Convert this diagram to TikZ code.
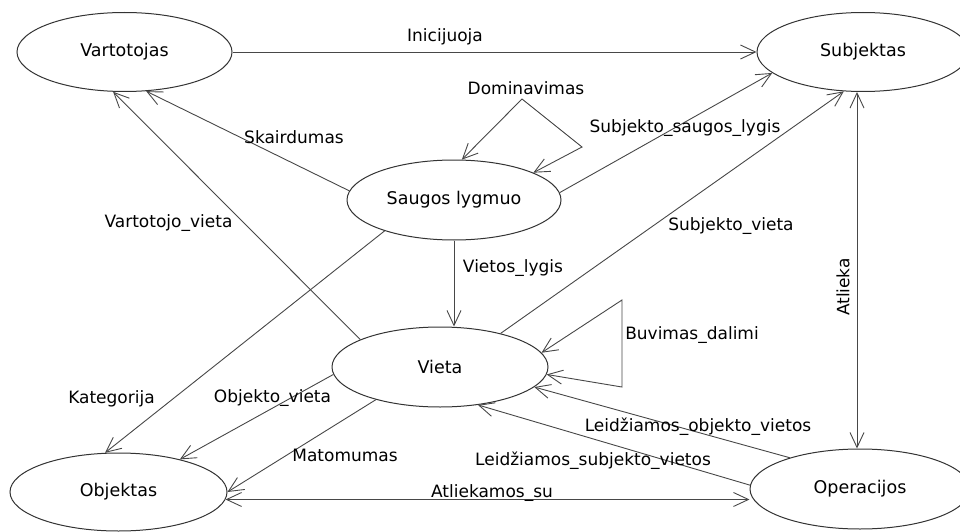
\documentclass[tikz,border=0pt]{standalone}
\usepackage{fontspec}
\setmainfont{DejaVu Sans}
\usetikzlibrary{shapes.geometric,arrows.meta}
\begin{document}
\begin{tikzpicture}[x=1pt,y=-1pt,
  line/.style={draw=black!72, line width=0.9pt},
  ent/.style={ellipse, draw=black!80, line width=1pt, minimum width=215pt,
    minimum height=79pt, inner sep=0pt, font=\fontsize{17.5}{20}\selectfont},
  lbl/.style={inner sep=0pt, font=\fontsize{17}{20}\selectfont},
  >={Straight Barb[length=15pt,width=14pt]}
]
\useasboundingbox (0,0) rectangle (960,532);

% entities
\node[ent] (vart) at (124.5,52) {Vartotojas};
\node[ent, minimum width=212pt] (subj) at (863,52) {Subjektas};
\node[ent, minimum width=214pt, minimum height=80pt] (saug) at (454,200) {Saugos lygmuo};
\node[ent, minimum width=216pt, minimum height=80pt] (viet) at (440,367) {Vieta};
\node[ent, minimum width=217pt, minimum height=78pt] (obj) at (118.5,492) {Objektas};
\node[ent, minimum width=220pt, minimum height=80pt] (oper) at (860,489) {Operacijos};

% corners of the two self-loops
\coordinate (domtop) at (522,99);
\coordinate (domright) at (582,147);
\coordinate (buvtop) at (622,300);
\coordinate (buvbot) at (622,387);

% relations
\draw[line,->] (vart.east) -- (subj.west);
\draw[line,->] (saug.175) -- (vart.-61);
\draw[line,->] (viet.161) -- (vart.254);
\draw[line,->] (saug.4) -- (subj.193);
\draw[line,<->] (saug.79) -- (domtop) -- (domright) -- (saug.19);
\draw[line,->] (saug.south) -- (saug.south |- viet.north);
\draw[line,->] (saug.204) -- (obj.109);
\draw[line,->] (viet.29) -- (subj.244);
\draw[line,<->] (viet.8) -- (buvtop) -- (buvbot) -- (viet.-4);
\draw[line,->] (oper.156) -- (viet.-12);
\draw[line,->] (oper.178) -- (viet.-45);
\draw[line,->] (viet.184) -- (obj.28);
\draw[line,->] (viet.207) -- (obj.east);
\draw[line,<->] (obj.-4) -- (obj.-4 -| oper.west);
\draw[line,<->] ([xshift=-6pt]subj.south) -- ([xshift=-6pt]subj.south |- oper.north);

% relation names
\node[lbl] (l-inic) at (445,37) {Inicijuoja};
\node[lbl] (l-dom) at (526,88) {Dominavimas};
\node[lbl] (l-skai) at (294,137) {Skairdumas};
\node[lbl] (l-ssl) at (685,128) {Subjekto\_saugos\_lygis};
\node[lbl] (l-vv) at (168.5,223) {Vartotojo\_vieta};
\node[lbl] (l-vl) at (513,268) {Vietos\_lygis};
\node[lbl] (l-sv) at (731,226) {Subjekto\_vieta};
\node[lbl] (l-kat) at (111.5,399) {Kategorija};
\node[lbl] (l-ov) at (272.5,398) {Objekto\_vieta};
\node[lbl] (l-mat) at (345,455) {Matomumas};
\node[lbl] (l-buv) at (692,335) {Buvimas\_dalimi};
\node[lbl] (l-lov) at (698,427) {Leidžiamos\_objekto\_vietos};
\node[lbl] (l-lsv) at (593,461) {Leidžiamos\_subjekto\_vietos};
\node[lbl] (l-as) at (492,493) {Atliekamos\_su};
\node[lbl, rotate=90] (l-atl) at (843,287) {Atlieka};
\end{tikzpicture}
\end{document}
